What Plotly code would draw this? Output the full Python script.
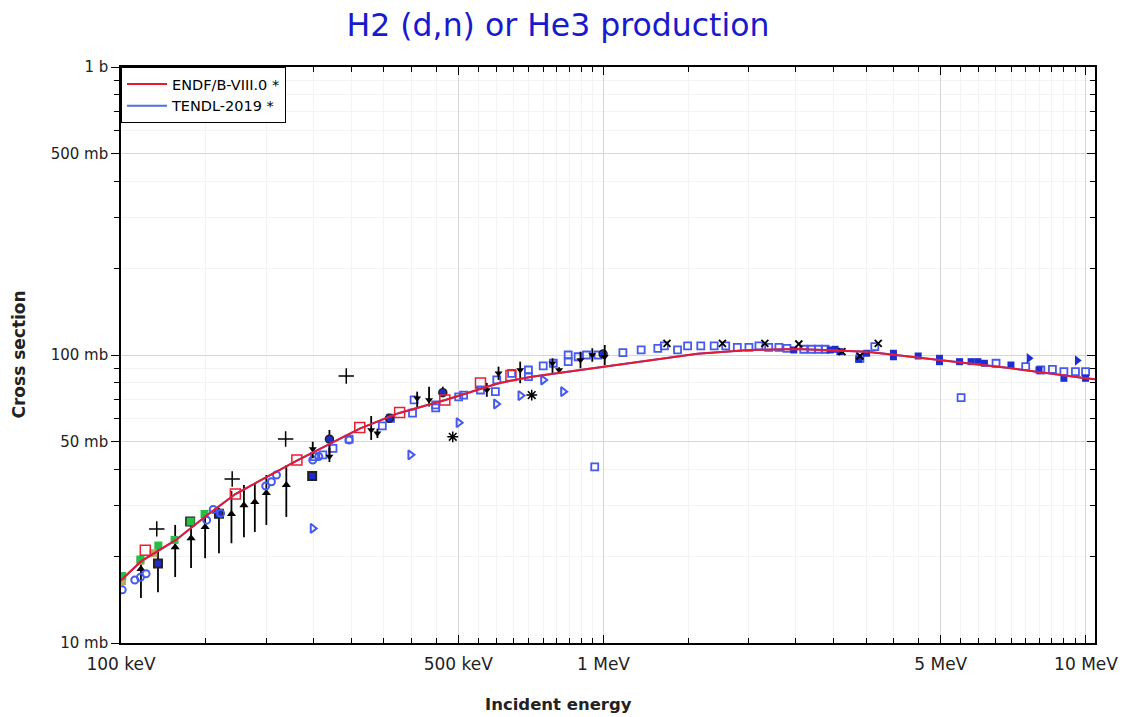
import plotly.graph_objects as go

# evaluated curves (energy in MeV, cross section in mb)
endf_e = [0.1, 0.11, 0.13, 0.15, 0.1726, 0.2315, 0.3125, 0.376, 0.47, 0.606, 0.71, 1.0,
          1.235, 1.566, 2.0, 2.52, 3.52, 4.95, 7.0, 10.0, 10.44]
endf_mb = [16.5, 19.2, 22.8, 27.6, 32.9, 43.0, 55.5, 62.8, 69.8, 79.8, 84.1, 91.1,
           96.1, 101.0, 104.0, 105.0, 102.7, 96.2, 89.9, 83.0, 82.3]
tendl_e = endf_e
tendl_mb = endf_mb

# experimental data sets
sq_e = [0.2518, 0.262, 0.275, 0.297, 0.348, 0.362, 0.402, 0.405, 0.449, 0.449, 0.501, 0.513, 0.556,
        0.601, 0.597, 0.645, 0.699, 0.699, 0.750, 0.787, 0.845, 0.845, 0.886, 0.922, 0.974,
        1.097, 1.197, 1.296, 1.337, 1.424, 1.494, 1.591, 1.696, 1.792, 1.894, 2.002, 2.10, 2.20,
        2.31, 2.40, 2.60, 2.70, 2.79, 2.88, 3.40, 3.65, 6.51, 7.50, 8.06, 8.52, 9.00, 9.51, 9.98,
        5.51, 0.959]
sq_mb = [44.4, 45.0, 47.4, 51.0, 56.7, 60.3, 62.8, 69.8, 67.1, 65.5, 71.6, 72.6, 75.6,
         81.9, 74.6, 86.4, 88.7, 84.1, 91.6, 93.6, 100.0, 94.8, 98.6, 100.0, 100.0,
         101.9, 104.1, 105.5, 107.5, 104.1, 107.5, 107.5, 107.5, 107.5, 106.3, 106.3, 107.5, 106.3,
         106.3, 105.5, 104.7, 104.7, 104.7, 104.7, 97.4, 106.9, 93.6, 91.1, 88.7, 89.2, 87.5, 87.5, 87.5,
         71.1, 40.9]

circ_e = [0.1006, 0.1068, 0.1097, 0.1127, 0.1505, 0.1553, 0.1609, 0.1995, 0.205, 0.210, 0.2497,
          0.257, 0.297]
circ_mb = [15.3, 16.55, 16.9, 17.4, 26.7, 29.1, 28.2, 35.1, 36.3, 38.3, 43.2, 44.4, 50.7]

fill_e = [2.48, 2.95, 3.02, 3.09, 3.38, 3.51, 3.99, 3.99, 4.49, 4.97, 4.97, 5.47, 5.78, 5.97, 6.16,
          6.99, 7.99, 9.00, 9.98]
fill_mb = [104.1, 104.1, 104.7, 102.7, 96.6, 101.4, 101.4, 98.6, 99.2, 97.4, 94.8, 94.8, 94.8, 94.8,
           93.6, 92.3, 88.7, 83.0, 83.0]

tri_r_e = [0.2497, 0.398, 0.501, 0.599, 0.673, 0.750, 0.825]
tri_r_mb = [25.0, 45.0, 58.2, 67.6, 72.3, 81.9, 74.6]

tri_rf_e = [7.62, 9.59]
tri_rf_mb = [97.4, 95.7]

x_e = [1.354, 1.764, 2.16, 2.54, 3.12, 3.40, 3.71]
x_mb = [109.8, 109.8, 109.8, 109.2, 102.7, 99.2, 109.8]

star_e = [0.487, 0.710]
star_mb = [52.0, 72.6]

plus_e = [0.1186, 0.170, 0.2194, 0.293]
plus_mb = [24.9, 37.1, 51.1, 84.5]

up_e = [0.110, 0.1295, 0.1397, 0.1494, 0.1694, 0.1798, 0.1894, 0.2001, 0.2201]
up_mb = [18.07, 21.5, 23.1, 25.3, 28.05, 30.1, 30.9, 33.2, 35.4]
up_ep = [1.66, 4.2, 3.6, 3.6, 5.65, 5.3, 5.0, 5.1, 6.1]
up_em = [3.74, 4.55, 4.9, 5.6, 5.85, 6.8, 6.6, 7.5, 8.0]

dn_e = [0.2497, 0.2704, 0.330, 0.340, 0.411, 0.435, 0.573, 0.606, 0.672, 0.784, 0.809, 0.896, 0.948, 1.006]
dn_mb = [47.2, 44.4, 54.9, 53.5, 70.7, 69.8, 75.6, 86.4, 88.7, 93.6, 88.7, 96.1, 100.0, 98.6]
dn_ep = [2.8, 3.1, 6.5, 2.0, 3.9, 7.8, 4.4, 4.7, 6.1, 3.8, 2.0, 6.6, 5.5, 9.7]
dn_em = [3.4, 1.9, 4.2, 2.0, 5.4, 3.6, 4.0, 4.5, 8.9, 7.2, 2.0, 6.2, 5.2, 6.3]

bc_e = [0.2704, 0.360, 0.4645, 0.998]
bc_mb = [51.0, 60.3, 74.0, 100.8]
bc_ep = [3.9, 2.0, 3.6, 2.0]
bc_em = [6.0, 2.0, 2.4, 2.0]

bs_e = [0.1193, 0.1391, 0.1596, 0.249]
bs_mb = [18.9, 26.4, 28.1, 38.0]
bs_ep = [3.5, 0.0, 1.3, 0.0]
bs_em = [3.9, 0.0, 7.6, 0.0]

green_e = [0.1006, 0.1097, 0.1195, 0.1291, 0.1394, 0.1490]
green_mb = [17.08, 19.5, 21.8, 22.8, 26.4, 28.05]

olive_e = [0.1005, 0.1097, 0.1167]
olive_mb = [16.4, 19.3, 20.5]

red_sq_e = [0.1123, 0.1726, 0.2315, 0.3125, 0.378, 0.469, 0.556, 0.643]
red_sq_mb = [21.0, 32.9, 43.2, 56.0, 63.1, 69.8, 80.0, 84.9]

x_tickvals = [0.1, 0.5, 1, 5, 10]
x_ticktext = ["100 keV", "500 keV", "1 MeV", "5 MeV", "10 MeV"]
y_tickvals = [10, 50, 100, 500, 1000]
y_ticktext = ["10 mb", "50 mb", "100 mb", "500 mb", "1 b"]

BLUE = "rgb(70,90,240)"
DARKBLUE = "rgb(30,45,210)"
BLACK = "black"

fig = go.Figure()


def errs(plus, minus):
    return dict(type="data", array=plus, arrayminus=minus, symmetric=False,
                color=BLACK, thickness=1.8, width=0)


# experimental points (no legend)
fig.add_trace(go.Scatter(x=up_e, y=up_mb, mode="markers", showlegend=False,
                         marker=dict(symbol="triangle-up", size=8, color=BLACK),
                         error_y=errs(up_ep, up_em)))
fig.add_trace(go.Scatter(x=bs_e, y=bs_mb, mode="markers", showlegend=False,
                         marker=dict(symbol="square", size=8, color=DARKBLUE,
                                     line=dict(color="#222", width=2)),
                         error_y=errs(bs_ep, bs_em)))
fig.add_trace(go.Scatter(x=olive_e, y=olive_mb, mode="markers", showlegend=False,
                         marker=dict(symbol="square", size=8, color="rgb(190,170,90)")))
fig.add_trace(go.Scatter(x=green_e, y=green_mb, mode="markers", showlegend=False,
                         marker=dict(symbol="square", size=8, color="rgb(40,190,70)")))
fig.add_trace(go.Scatter(x=circ_e, y=circ_mb, mode="markers", showlegend=False,
                         marker=dict(symbol="circle-open", size=7, color=BLUE,
                                     line=dict(width=2))))
fig.add_trace(go.Scatter(x=sq_e, y=sq_mb, mode="markers", showlegend=False,
                         marker=dict(symbol="square-open", size=7, color=BLUE,
                                     line=dict(width=1.8))))
fig.add_trace(go.Scatter(x=fill_e, y=fill_mb, mode="markers", showlegend=False,
                         marker=dict(symbol="square", size=7, color=DARKBLUE)))
fig.add_trace(go.Scatter(x=tri_r_e, y=tri_r_mb, mode="markers", showlegend=False,
                         marker=dict(symbol="triangle-right-open", size=8, color=BLUE,
                                     line=dict(width=2))))
fig.add_trace(go.Scatter(x=tri_rf_e, y=tri_rf_mb, mode="markers", showlegend=False,
                         marker=dict(symbol="triangle-right", size=9, color=DARKBLUE)))
fig.add_trace(go.Scatter(x=bc_e, y=bc_mb, mode="markers", showlegend=False,
                         marker=dict(symbol="circle", size=8, color=DARKBLUE,
                                     line=dict(color="#222", width=1.5)),
                         error_y=errs(bc_ep, bc_em)))
fig.add_trace(go.Scatter(x=dn_e, y=dn_mb, mode="markers", showlegend=False,
                         marker=dict(symbol="triangle-down", size=7, color=BLACK),
                         error_y=errs(dn_ep, dn_em)))
fig.add_trace(go.Scatter(x=red_sq_e, y=red_sq_mb, mode="markers", showlegend=False,
                         marker=dict(symbol="square-open", size=10, color="rgb(235,30,45)",
                                     line=dict(width=1.5))))
fig.add_trace(go.Scatter(x=plus_e, y=plus_mb, mode="markers", showlegend=False,
                         marker=dict(symbol="cross-thin-open", size=11, color=BLACK,
                                     line=dict(width=1.5, color=BLACK))))
fig.add_trace(go.Scatter(x=x_e, y=x_mb, mode="markers", showlegend=False,
                         marker=dict(symbol="x-thin-open", size=7, color=BLACK,
                                     line=dict(width=1.8, color=BLACK))))
fig.add_trace(go.Scatter(x=star_e, y=star_mb, mode="markers", showlegend=False,
                         marker=dict(symbol="asterisk-open", size=9, color=BLACK,
                                     line=dict(width=1.5, color=BLACK))))

# evaluations
fig.add_trace(go.Scatter(x=tendl_e, y=tendl_mb, mode="lines", name="TENDL-2019 *",
                         line=dict(color="rgb(80,110,230)", width=2)))
fig.add_trace(go.Scatter(x=endf_e, y=endf_mb, mode="lines", name="ENDF/B-VIII.0 *",
                         line=dict(color="rgb(230,25,50)", width=2)))

# invisible trace so the mirror axes (inward ticks on top and right) get drawn
fig.add_trace(go.Scatter(x=[1], y=[100], xaxis="x2", yaxis="y2", mode="markers",
                         marker=dict(opacity=0), showlegend=False, hoverinfo="skip"))

x_minor = [0.15, 0.2, 0.25, 0.3, 0.35, 0.4, 0.45, 0.55, 0.6, 0.65, 0.7, 0.75, 0.8, 0.85, 0.9, 0.95,
           1.5, 2, 2.5, 3, 3.5, 4, 4.5, 5.5, 6, 6.5, 7, 7.5, 8, 8.5, 9, 9.5]
y_minor = [20, 30, 40, 60, 70, 80, 90, 200, 300, 400, 600, 700, 800, 900]
x_range = [-1, 1.0187]
y_range = [1, 3]

# the page body adds an 8px offset, figure is sized to compensate
W, H = 1122, 709
x_font = dict(family="DejaVu Sans", size=17, color="#222")
y_font = dict(family="DejaVu Sans", size=15, color="#222")

fig.update_layout(
    width=W, height=H,
    margin=dict(l=113, r=30, t=59, b=74),
    paper_bgcolor="white", plot_bgcolor="white",
    title=dict(text="H2 (d,n) or He3 production", x=550 / W, xanchor="center",
               y=1 - 17 / H, yanchor="middle",
               font=dict(family="DejaVu Sans", size=31.5, color="rgb(25,25,205)")),
    legend=dict(x=0, y=1, xanchor="left", yanchor="top", bgcolor="white",
                bordercolor="black", borderwidth=1, traceorder="reversed",
                font=dict(family="DejaVu Sans", size=14.5, color="black"),
                itemwidth=40, tracegroupgap=0),
    xaxis=dict(type="log", range=x_range, tickvals=x_tickvals, ticktext=x_ticktext,
               ticks="inside", ticklen=8, tickcolor="black", tickfont=x_font,
               showline=True, linecolor="black", linewidth=1.5,
               showgrid=True, gridcolor="rgb(215,215,215)", gridwidth=1, zeroline=False,
               ticklabelstandoff=5,
               minor=dict(tickvals=x_minor, ticks="inside", ticklen=5, tickcolor="black",
                          showgrid=True, gridcolor="rgb(243,243,243)")),
    yaxis=dict(type="log", range=y_range, tickvals=y_tickvals, ticktext=y_ticktext,
               ticks="outside", ticklen=8, tickcolor="black", tickfont=y_font,
               showline=True, linecolor="black", linewidth=1.5,
               showgrid=True, gridcolor="rgb(215,215,215)", gridwidth=1, zeroline=False,
               minor=dict(tickvals=y_minor, ticks="outside", ticklen=5, tickcolor="black",
                          showgrid=True, gridcolor="rgb(243,243,243)")),
    xaxis2=dict(type="log", range=x_range, overlaying="x", side="top", tickvals=x_tickvals,
                showticklabels=False, ticks="inside", ticklen=8, tickcolor="black",
                showline=True, linecolor="black", linewidth=1.5, showgrid=False, zeroline=False,
                minor=dict(tickvals=x_minor, ticks="inside", ticklen=5, tickcolor="black")),
    yaxis2=dict(type="log", range=y_range, overlaying="y", side="right", tickvals=y_tickvals,
                showticklabels=False, ticks="inside", ticklen=8, tickcolor="black",
                showline=True, linecolor="black", linewidth=1.5, showgrid=False, zeroline=False,
                minor=dict(tickvals=y_minor, ticks="inside", ticklen=5, tickcolor="black")),
)

# axis titles, positioned in screen pixels relative to the plot area (121..1100, 67..643)
plot_w, plot_h = 979, 576
fig.add_annotation(text="<b>Cross section</b>", xref="paper", yref="paper",
                   x=(18 - 121) / plot_w, y=(643 - 355) / plot_h,
                   xanchor="center", yanchor="middle", showarrow=False, textangle=-90,
                   font=dict(family="DejaVu Sans", size=17, color="#222"))
fig.add_annotation(text="<b>Incident energy</b>", xref="paper", yref="paper",
                   x=(561 - 121) / plot_w, y=(643 - 704) / plot_h,
                   xanchor="center", yanchor="middle", showarrow=False,
                   font=dict(family="DejaVu Sans", size=16.5, color="#222"))

fig.write_html("out.html")
